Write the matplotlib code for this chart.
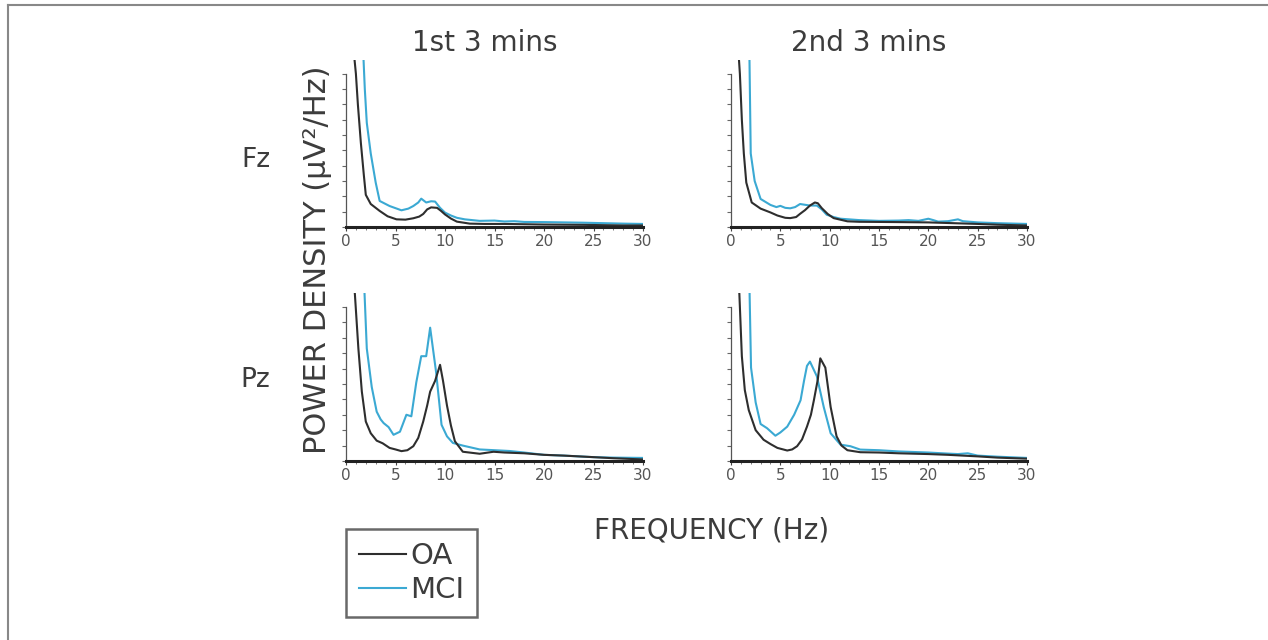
import numpy as np
import matplotlib.pyplot as plt
from matplotlib.lines import Line2D

# power spectra (Hz, arbitrary units, 10 = top of axis)
fz1_oa_x = [0.7, 1.0, 1.2, 1.5, 1.8, 2.0, 2.5, 3.4, 4.2, 5.1, 6.0, 6.8, 7.4, 7.8, 8.2, 8.6, 9.2, 9.6, 10.0, 10.6, 11.2, 12.5, 14, 16, 18, 20, 22, 24, 26, 28, 30]
fz1_oa_y = [12, 10.0, 8.0, 5.5, 3.4, 2.1, 1.5, 1.05, 0.7, 0.5, 0.48, 0.57, 0.68, 0.85, 1.15, 1.28, 1.25, 1.05, 0.82, 0.55, 0.35, 0.22, 0.2, 0.2, 0.18, 0.16, 0.15, 0.14, 0.12, 0.1, 0.1]
fz1_mci_x = [1.7, 1.9, 2.1, 2.5, 3.0, 3.4, 4.4, 5.6, 6.3, 6.8, 7.3, 7.6, 8.1, 8.6, 9.0, 9.5, 10.0, 10.6, 11.2, 12.0, 13.5, 15, 16, 17, 18, 20, 22, 24, 26, 28, 30]
fz1_mci_y = [12, 9.0, 6.8, 4.8, 2.9, 1.7, 1.37, 1.09, 1.2, 1.37, 1.6, 1.85, 1.6, 1.68, 1.66, 1.25, 0.94, 0.75, 0.6, 0.5, 0.4, 0.42, 0.36, 0.38, 0.33, 0.32, 0.3, 0.28, 0.25, 0.22, 0.2]

fz2_oa_x = [0.7, 0.9, 1.1, 1.3, 1.55, 2.1, 3.0, 4.0, 4.7, 5.5, 6.0, 6.6, 7.0, 7.5, 8.0, 8.5, 8.8, 9.2, 9.8, 10.4, 11.8, 13, 15, 17, 20, 22, 25, 27, 30]
fz2_oa_y = [12, 10.0, 7.0, 4.8, 2.9, 1.6, 1.2, 0.95, 0.75, 0.6, 0.58, 0.65, 0.86, 1.1, 1.4, 1.6, 1.55, 1.23, 0.85, 0.58, 0.37, 0.34, 0.33, 0.32, 0.3, 0.26, 0.2, 0.15, 0.1]
fz2_mci_x = [1.85, 2.0, 2.4, 3.0, 4.0, 4.6, 5.0, 5.5, 6.0, 6.5, 7.0, 7.5, 8.0, 8.7, 9.2, 9.7, 10.4, 11.1, 13, 15, 17, 18, 19, 20, 20.5, 21, 22, 23, 23.5, 25, 27, 30]
fz2_mci_y = [12, 4.8, 3.0, 1.83, 1.44, 1.3, 1.38, 1.25, 1.22, 1.3, 1.5, 1.45, 1.4, 1.4, 1.15, 0.8, 0.65, 0.54, 0.45, 0.4, 0.42, 0.45, 0.4, 0.54, 0.45, 0.35, 0.38, 0.5, 0.38, 0.3, 0.25, 0.2]

pz1_oa_x = [0.75, 0.9, 1.25, 1.6, 2.0, 2.5, 3.1, 3.7, 4.4, 5.0, 5.6, 6.2, 6.8, 7.3, 7.8, 8.2, 8.5, 9.0, 9.5, 9.8, 10.2, 10.6, 11.0, 11.8, 13.5, 14.9, 16, 18, 20, 22, 25, 27, 30]
pz1_oa_y = [12, 10.8, 7.3, 4.5, 2.56, 1.8, 1.32, 1.15, 0.85, 0.75, 0.64, 0.7, 0.96, 1.5, 2.56, 3.6, 4.5, 5.2, 6.24, 5.2, 3.6, 2.3, 1.28, 0.6, 0.47, 0.6, 0.55, 0.5, 0.4, 0.35, 0.25, 0.18, 0.1]
pz1_mci_x = [1.8, 2.1, 2.6, 3.1, 3.5, 3.8, 4.3, 4.8, 5.45, 6.1, 6.6, 7.1, 7.6, 8.1, 8.5, 9.1, 9.65, 10.2, 10.8, 11.8, 13.5, 15, 16.5, 18, 20, 22, 25, 27, 30]
pz1_mci_y = [12, 7.3, 4.8, 3.2, 2.7, 2.46, 2.2, 1.7, 1.9, 3.0, 2.9, 5.1, 6.8, 6.8, 8.65, 5.77, 2.35, 1.6, 1.17, 1.0, 0.75, 0.7, 0.65, 0.55, 0.4, 0.35, 0.25, 0.22, 0.2]

pz2_oa_x = [0.75, 0.85, 1.1, 1.4, 1.8, 2.5, 3.3, 4.0, 4.7, 5.7, 6.2, 6.7, 7.2, 7.7, 8.1, 8.4, 8.8, 9.05, 9.56, 10.1, 10.7, 11.2, 11.8, 13.1, 15, 17, 20, 22, 25, 27, 30]
pz2_oa_y = [12, 10.8, 6.8, 4.6, 3.3, 2.0, 1.38, 1.1, 0.85, 0.68, 0.75, 0.96, 1.4, 2.23, 3.0, 3.94, 5.3, 6.66, 6.06, 3.5, 1.6, 1.0, 0.7, 0.57, 0.55, 0.5, 0.45, 0.4, 0.3, 0.22, 0.15]
pz2_mci_x = [1.85, 2.03, 2.5, 3.0, 3.65, 4.5, 5.0, 5.7, 6.4, 7.05, 7.4, 7.7, 8.0, 8.7, 9.4, 10.1, 11.1, 12.1, 13.1, 15, 17, 20, 22, 23, 24, 25, 27, 30]
pz2_mci_y = [12, 6.06, 3.8, 2.4, 2.13, 1.64, 1.85, 2.23, 3.0, 3.94, 5.2, 6.17, 6.45, 5.5, 3.5, 1.8, 1.06, 0.96, 0.74, 0.7, 0.62, 0.55, 0.48, 0.45, 0.5, 0.35, 0.28, 0.2]

col_titles = ["1st 3 mins", "2nd 3 mins"]
row_labels = ["Fz", "Pz"]
series_names = ["OA", "MCI"]

oa_color = "#2e2e2e"
mci_color = "#3ba9d3"
text_color = "#3c3c3c"

W, H = 1268, 640
fig = plt.figure(figsize=(W / 100, H / 100), dpi=100)


def px_axes(left, right, top, bottom):
    return fig.add_axes([left / W, 1 - bottom / H, (right - left) / W, (bottom - top) / H])


panels = [
    [(fz1_oa_x, fz1_oa_y, fz1_mci_x, fz1_mci_y), (fz2_oa_x, fz2_oa_y, fz2_mci_x, fz2_mci_y)],
    [(pz1_oa_x, pz1_oa_y, pz1_mci_x, pz1_mci_y), (pz2_oa_x, pz2_oa_y, pz2_mci_x, pz2_mci_y)],
]
col_px = [(346, 643), (731, 1027)]
row_px = [(60, 227), (293, 461)]

for r in range(2):
    for c in range(2):
        l, rr = col_px[c]
        t, b = row_px[r]
        ax = px_axes(l, rr, t, b)
        ox, oy, mx, my = panels[r][c]
        ax.plot(mx, my, color=mci_color, lw=1.5, zorder=3)
        ax.plot(ox, oy, color=oa_color, lw=1.5, zorder=4)
        ax.set_xlim(0, 30)
        ax.set_ylim(0, 10.9)
        for s in ["top", "right"]:
            ax.spines[s].set_visible(False)
        ax.spines["left"].set_bounds(0, 10)
        ax.spines["left"].set_color("#555555")
        ax.spines["left"].set_linewidth(0.9)
        ax.spines["bottom"].set_color("#222222")
        ax.spines["bottom"].set_linewidth(2.2)
        ax.spines["bottom"].set_zorder(5)
        ax.set_yticks(np.arange(0, 11, 1))
        ax.set_yticklabels([])
        ax.tick_params(axis="y", length=3, width=0.8, color="#666666")
        ax.set_xticks(np.arange(0, 31, 5))
        ax.set_xticks(np.arange(0, 31, 1), minor=True)
        ax.tick_params(axis="x", which="major", length=3, width=0.8, color="#444444",
                       labelsize=11, labelcolor="#555555", pad=2)
        ax.tick_params(axis="x", which="minor", length=2, width=0.6, color="#666666")
        ax.patch.set_alpha(0)

for c, title in enumerate(col_titles):
    cx = (col_px[c][0] + col_px[c][1]) / 2 - 10
    fig.text(cx / W, 1 - 43 / H, title, ha="center", va="center", fontsize=20, color=text_color)

fig.text(256 / W, 1 - 160 / H, row_labels[0], ha="center", va="center", fontsize=19, color=text_color)
fig.text(255 / W, 1 - 380 / H, row_labels[1], ha="center", va="center", fontsize=19, color=text_color)

fig.text(318 / W, 1 - 260 / H, "POWER DENSITY (\u03bcV\u00b2/Hz)", rotation=90, ha="center", va="center",
         fontsize=22, color=text_color)
fig.text(712 / W, 1 - 530 / H, "FREQUENCY (Hz)", ha="center", va="center", fontsize=20, color=text_color)

handles = [Line2D([], [], color=oa_color, lw=1.5), Line2D([], [], color=mci_color, lw=1.5)]
leg = fig.legend(handles, series_names, loc="upper left", bbox_to_anchor=(346 / W, 1 - 529 / H),
                 frameon=True, fancybox=False, edgecolor="#444444", fontsize=21, handlelength=1.6,
                 handletextpad=0.15, labelspacing=0.2, borderpad=0.45, borderaxespad=0)
leg.get_frame().set_linewidth(1.8)
for t in leg.get_texts():
    t.set_color(text_color)

# outer frame (top and left edges)
fig.add_artist(Line2D([8 / W, 1], [1 - 5 / H, 1 - 5 / H], color="#888888", lw=1.5))
fig.add_artist(Line2D([8 / W, 8 / W], [0, 1 - 5 / H], color="#888888", lw=1.5))

fig.savefig("out.png", dpi=100)
